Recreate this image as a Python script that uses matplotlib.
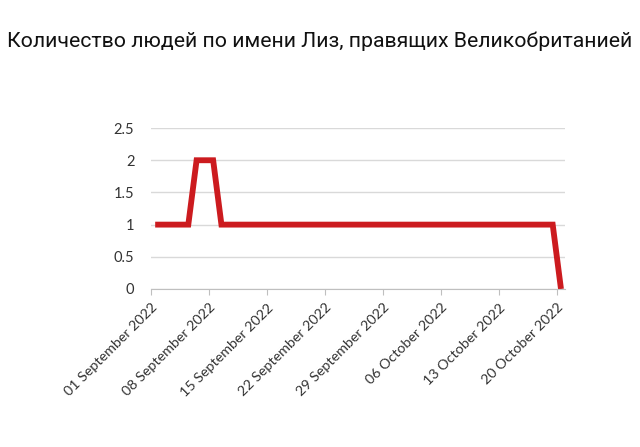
import matplotlib
matplotlib.use("Agg")
import matplotlib.pyplot as plt
from matplotlib import font_manager
import datetime as dt

dates = [dt.date(2022, 9, 1) + dt.timedelta(days=i) for i in range(50)]
values = [1]*5 + [2]*3 + [1]*41 + [0]
tick_labels = ["01 September 2022", "08 September 2022", "15 September 2022",
               "22 September 2022", "29 September 2022", "06 October 2022",
               "13 October 2022", "20 October 2022"]
title = "Количество людей по имени Лиз, правящих Великобританией"

names = {f.name for f in font_manager.fontManager.ttflist}
if "Liberation Sans Narrow" in names:
    title_font, title_size = "Liberation Sans Narrow", 17.5
elif "Roboto" in names:
    title_font, title_size = "Roboto", 15.35
else:
    title_font, title_size = "Liberation Sans", 14.8
tick_font = "Lato" if "Lato" in names else "DejaVu Sans"

fig = plt.figure(figsize=(6.4, 4.47), dpi=100)
ax = fig.add_axes([0.236, 0.3535, 0.647, 0.36])

x0 = dates[0]
xs = [(d - x0).days + 0.5 for d in dates]
ax.plot(xs, values, color="#CC1B1F", lw=4.2, solid_joinstyle="miter", solid_capstyle="butt")

ax.set_xlim(0, 50)
ax.set_ylim(0, 2.5)
ax.set_yticks([0, 0.5, 1, 1.5, 2, 2.5])
ax.set_yticklabels(["0", "0.5", "1", "1.5", "2", "2.5"], fontfamily=tick_font, fontsize=10.5, color="#333333")
ax.set_xticks(range(0, 50, 7))
ax.set_xticklabels(tick_labels, rotation=45, ha="right", va="top", rotation_mode="anchor",
                   fontfamily=tick_font, fontsize=10.3, color="#333333")
ax.grid(axis="y", color="#D9D9D9", lw=1)
ax.set_axisbelow(True)
for s in ["top", "right", "left"]:
    ax.spines[s].set_visible(False)
ax.spines["bottom"].set_color("#BFBFBF")
ax.tick_params(axis="y", length=0, pad=12)
ax.tick_params(axis="x", length=4, color="#BFBFBF", pad=5)

fig.text(0.5, 0.908, title, ha="center", va="center",
         fontfamily=[title_font, "DejaVu Sans"], fontsize=title_size, color="#111111")

fig.savefig("out.png", dpi=100, facecolor="white")
